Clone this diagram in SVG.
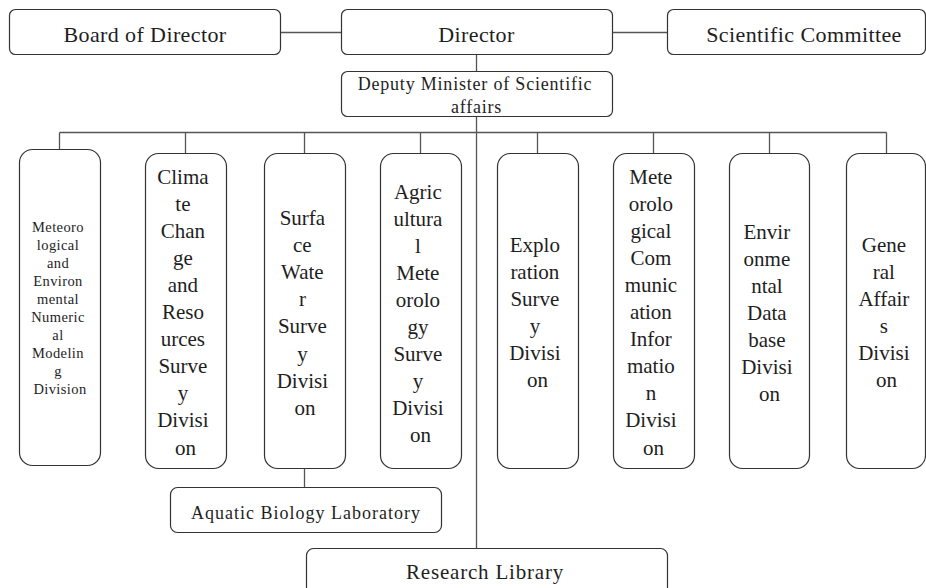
<svg xmlns="http://www.w3.org/2000/svg" width="926" height="588" viewBox="0 0 926 588">
  <style>
    .box { fill: #ffffff; stroke: #333333; stroke-width: 1.2; }
    .wire { fill: none; stroke: #555555; stroke-width: 1.3; }
    text { font-family: "Liberation Serif", "Times New Roman", serif; fill: #1e1e1e; text-anchor: middle; }
    .head { font-size: 22px; letter-spacing: 0.4px; }
    .sub { font-size: 18px; letter-spacing: 0.8px; }
    .col { font-size: 21px; }
    .small { font-size: 14.5px; letter-spacing: 0.4px; }
  </style>

  <!-- connectors -->
  <g id="connectors">
    <path class="wire" d="M280 32.5 H341 M612 32.5 H667"/>
    <path class="wire" d="M476.5 54 V71 M476.5 116 V548"/>
    <path class="wire" d="M59.5 132.5 H886.5"/>
    <path class="wire" d="M59.5 132.5 V149 M185.5 132.5 V153 M304.5 132.5 V153 M420.5 132.5 V153 M537.5 132.5 V153 M653.5 132.5 V153 M769.5 132.5 V153 M886.5 132.5 V153"/>
    <path class="wire" d="M304.5 468 V487"/>
  </g>

  <!-- top row -->
  <g id="board">
    <rect class="box" x="9.5" y="9.5" width="271" height="45" rx="6"/>
    <text class="head" x="145" y="42">Board of Director</text>
  </g>
  <g id="director">
    <rect class="box" x="341.5" y="9.5" width="271" height="45" rx="6"/>
    <text class="head" x="476.5" y="42">Director</text>
  </g>
  <g id="committee">
    <rect class="box" x="667.5" y="9.5" width="258" height="45" rx="6"/>
    <text class="head" x="804" y="42">Scientific Committee</text>
  </g>

  <g id="deputy">
    <rect class="box" x="341.5" y="71.5" width="271" height="45" rx="6"/>
    <text class="sub" x="475" y="90">Deputy Minister of Scientific</text>
    <text class="sub" x="476.5" y="113">affairs</text>
  </g>

  <!-- divisions -->
  <g id="numeric-modeling">
    <rect class="box" x="19.5" y="149.5" width="81" height="316" rx="13"/>
    <text class="small">
      <tspan x="60" y="232">Meteoro</tspan>
      <tspan x="60" y="250">logical</tspan>
      <tspan x="60" y="268">and</tspan>
      <tspan x="60" y="286">Environ</tspan>
      <tspan x="60" y="304">mental</tspan>
      <tspan x="60" y="322">Numeric</tspan>
      <tspan x="60" y="340">al</tspan>
      <tspan x="60" y="358">Modelin</tspan>
      <tspan x="60" y="376">g</tspan>
      <tspan x="60" y="394">Division</tspan>
    </text>
  </g>
  <g id="climate-change">
    <rect class="box" x="145.5" y="153.5" width="81" height="315" rx="13"/>
    <text class="col">
      <tspan x="185.5" y="183.5">Clima</tspan>
      <tspan x="185.5" y="210.6">te</tspan>
      <tspan x="185.5" y="237.7">Chan</tspan>
      <tspan x="185.5" y="264.8">ge</tspan>
      <tspan x="185.5" y="291.9">and</tspan>
      <tspan x="185.5" y="319">Reso</tspan>
      <tspan x="185.5" y="346.1">urces</tspan>
      <tspan x="185.5" y="373.2">Surve</tspan>
      <tspan x="185.5" y="400.3">y</tspan>
      <tspan x="185.5" y="427.4">Divisi</tspan>
      <tspan x="185.5" y="454.5">on</tspan>
    </text>
  </g>
  <g id="surface-water">
    <rect class="box" x="264.5" y="153.5" width="81" height="315" rx="13"/>
    <text class="col">
      <tspan x="305" y="225">Surfa</tspan>
      <tspan x="305" y="252.1">ce</tspan>
      <tspan x="305" y="279.2">Wate</tspan>
      <tspan x="305" y="306.3">r</tspan>
      <tspan x="305" y="333.4">Surve</tspan>
      <tspan x="305" y="360.5">y</tspan>
      <tspan x="305" y="387.6">Divisi</tspan>
      <tspan x="305" y="414.7">on</tspan>
    </text>
  </g>
  <g id="agricultural">
    <rect class="box" x="380.5" y="153.5" width="81" height="315" rx="13"/>
    <text class="col">
      <tspan x="420.5" y="198.5">Agric</tspan>
      <tspan x="420.5" y="225.5">ultura</tspan>
      <tspan x="420.5" y="252.5">l</tspan>
      <tspan x="420.5" y="279.5">Mete</tspan>
      <tspan x="420.5" y="306.5">orolo</tspan>
      <tspan x="420.5" y="333.5">gy</tspan>
      <tspan x="420.5" y="360.5">Surve</tspan>
      <tspan x="420.5" y="387.5">y</tspan>
      <tspan x="420.5" y="414.5">Divisi</tspan>
      <tspan x="420.5" y="441.5">on</tspan>
    </text>
  </g>
  <g id="exploration">
    <rect class="box" x="497.5" y="153.5" width="81" height="315" rx="13"/>
    <text class="col">
      <tspan x="537.5" y="251.5">Explo</tspan>
      <tspan x="537.5" y="278.5">ration</tspan>
      <tspan x="537.5" y="305.5">Surve</tspan>
      <tspan x="537.5" y="332.5">y</tspan>
      <tspan x="537.5" y="359.5">Divisi</tspan>
      <tspan x="537.5" y="386.5">on</tspan>
    </text>
  </g>
  <g id="communication">
    <rect class="box" x="613.5" y="153.5" width="81" height="315" rx="13"/>
    <text class="col">
      <tspan x="653.5" y="183.5">Mete</tspan>
      <tspan x="653.5" y="210.6">orolo</tspan>
      <tspan x="653.5" y="237.7">gical</tspan>
      <tspan x="653.5" y="264.8">Com</tspan>
      <tspan x="653.5" y="291.9">munic</tspan>
      <tspan x="653.5" y="319">ation</tspan>
      <tspan x="653.5" y="346.1">Infor</tspan>
      <tspan x="653.5" y="373.2">matio</tspan>
      <tspan x="653.5" y="400.3">n</tspan>
      <tspan x="653.5" y="427.4">Divisi</tspan>
      <tspan x="653.5" y="454.5">on</tspan>
    </text>
  </g>
  <g id="database">
    <rect class="box" x="729.5" y="153.5" width="80" height="315" rx="13"/>
    <text class="col">
      <tspan x="769.5" y="238.5">Envir</tspan>
      <tspan x="769.5" y="265.5">onme</tspan>
      <tspan x="769.5" y="292.5">ntal</tspan>
      <tspan x="769.5" y="319.5">Data</tspan>
      <tspan x="769.5" y="346.5">base</tspan>
      <tspan x="769.5" y="373.5">Divisi</tspan>
      <tspan x="769.5" y="400.5">on</tspan>
    </text>
  </g>
  <g id="general-affairs">
    <rect class="box" x="846.5" y="153.5" width="79" height="315" rx="13"/>
    <text class="col">
      <tspan x="886.5" y="251.5">Gene</tspan>
      <tspan x="886.5" y="278.5">ral</tspan>
      <tspan x="886.5" y="305.5">Affair</tspan>
      <tspan x="886.5" y="332.5">s</tspan>
      <tspan x="886.5" y="359.5">Divisi</tspan>
      <tspan x="886.5" y="386.5">on</tspan>
    </text>
  </g>

  <!-- lower units -->
  <g id="aquatic-lab">
    <rect class="box" x="170.5" y="487.5" width="271" height="45" rx="7"/>
    <text class="sub" style="letter-spacing:1px" x="306" y="518.5">Aquatic Biology Laboratory</text>
  </g>
  <g id="research-library">
    <rect class="box" x="306.5" y="548.5" width="361" height="50" rx="7"/>
    <text class="col" style="letter-spacing:0.8px" x="485" y="579">Research Library</text>
  </g>
</svg>
